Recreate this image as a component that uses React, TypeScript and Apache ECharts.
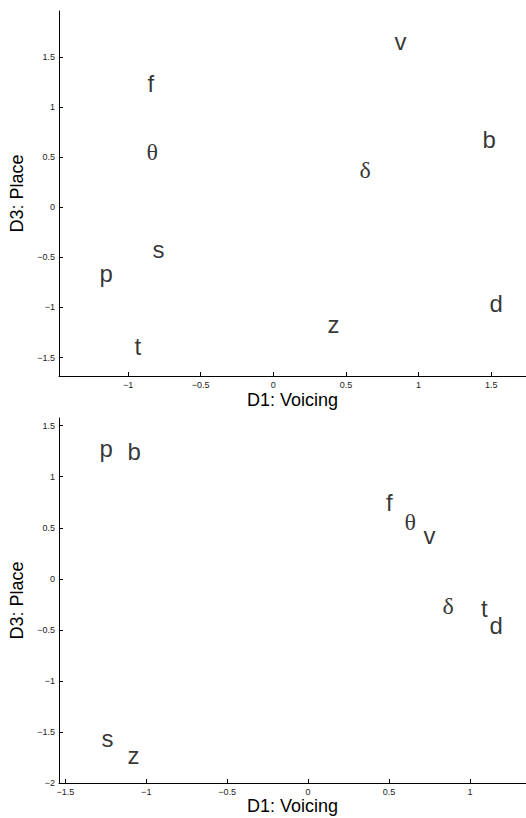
import React, { useEffect, useRef } from 'react';
import * as echarts from 'echarts';

// Top panel: phoneme labels and coordinates (D1: Voicing vs D3: Place)
const topLabels = ['f', 'θ', 'v', 'b', 'δ', 's', 'p', 't', 'z', 'd'];
const topX = [-0.869, -0.876, 0.831, 1.436, 0.59, -0.835, -1.199, -0.958, 0.37, 1.484];
const topY = [1.231, 0.552, 1.65, 0.681, 0.372, -0.425, -0.659, -1.39, -1.171, -0.959];

// Bottom panel
const bottomLabels = ['p', 'b', 'f', 'θ', 'v', 'δ', 't', 'd', 's', 'z'];
const bottomX = [-1.292, -1.119, 0.478, 0.592, 0.71, 0.827, 1.065, 1.117, -1.279, -1.119];
const bottomY = [1.272, 1.242, 0.752, 0.556, 0.428, -0.268, -0.287, -0.454, -1.569, -1.728];

// Tick values
const topXTicks = [-1, -0.5, 0, 0.5, 1, 1.5];
const topYTicks = [-1.5, -1, -0.5, 0, 0.5, 1, 1.5];
const bottomXTicks = [-1.5, -1, -0.5, 0, 0.5, 1];
const bottomYTicks = [-2, -1.5, -1, -0.5, 0, 0.5, 1, 1.5];

const xName = 'D1: Voicing';
const yName = 'D3: Place';

const fmt = (v: number) => (v < 0 ? '\u2212' + String(Math.abs(v)) : String(v));

function valueAxis(
  gridIndex: number,
  min: number,
  max: number,
  ticks: number[],
  name: string,
  nameGap: number
) {
  return {
    type: 'value',
    gridIndex,
    min,
    max,
    name,
    nameLocation: 'middle',
    nameGap,
    nameTextStyle: { fontFamily: 'Liberation Sans', fontSize: 18, color: '#000' },
    axisLine: { show: true, onZero: false, lineStyle: { color: '#000', width: 1 } },
    axisTick: { show: true, inside: true, length: 4, customValues: ticks, lineStyle: { color: '#000', width: 1 } },
    axisLabel: {
      show: true,
      customValues: ticks,
      formatter: fmt,
      fontFamily: 'Liberation Sans',
      fontSize: 9,
      color: '#222',
      margin: 4,
    },
    splitLine: { show: false },
  };
}

function textSeries(idx: number, labels: string[], xs: number[], ys: number[]) {
  return {
    type: 'scatter',
    xAxisIndex: idx,
    yAxisIndex: idx,
    symbolSize: 1,
    silent: true,
    itemStyle: { color: 'rgba(0,0,0,0)' },
    data: labels.map((l, i) => ({
      value: [xs[i], ys[i]],
      name: l,
      label: { fontFamily: /[θδ]/.test(l) ? 'Liberation Serif' : 'Liberation Sans' },
    })),
    label: {
      show: true,
      position: 'right',
      distance: 0,
      formatter: (p: any) => p.name,
      fontSize: 24,
      color: '#000',
    },
  };
}

export default function App() {
  const ref = useRef<HTMLDivElement>(null);
  useEffect(() => {
    if (!ref.current) return;
    const chart = echarts.init(ref.current, null, { renderer: 'svg' });
    chart.setOption({
      animation: false,
      backgroundColor: '#fff',
      grid: [
        { left: 59, top: 11, width: 467, height: 365 },
        { left: 59, top: 418, width: 467, height: 365 },
      ],
      xAxis: [
        valueAxis(0, -1.475, 1.739, topXTicks, xName, 15),
        valueAxis(1, -1.539, 1.346, bottomXTicks, xName, 12),
      ],
      yAxis: [
        valueAxis(0, -1.684, 1.959, topYTicks, yName, 29),
        valueAxis(1, -2, 1.575, bottomYTicks, yName, 29),
      ],
      series: [
        textSeries(0, topLabels, topX, topY),
        textSeries(1, bottomLabels, bottomX, bottomY),
      ],
    });
    return () => chart.dispose();
  }, []);
  return (
    <div
      ref={ref}
      style={{ position: 'absolute', left: 0, top: 0, width: 526, height: 818, background: '#fff' }}
    />
  );
}
